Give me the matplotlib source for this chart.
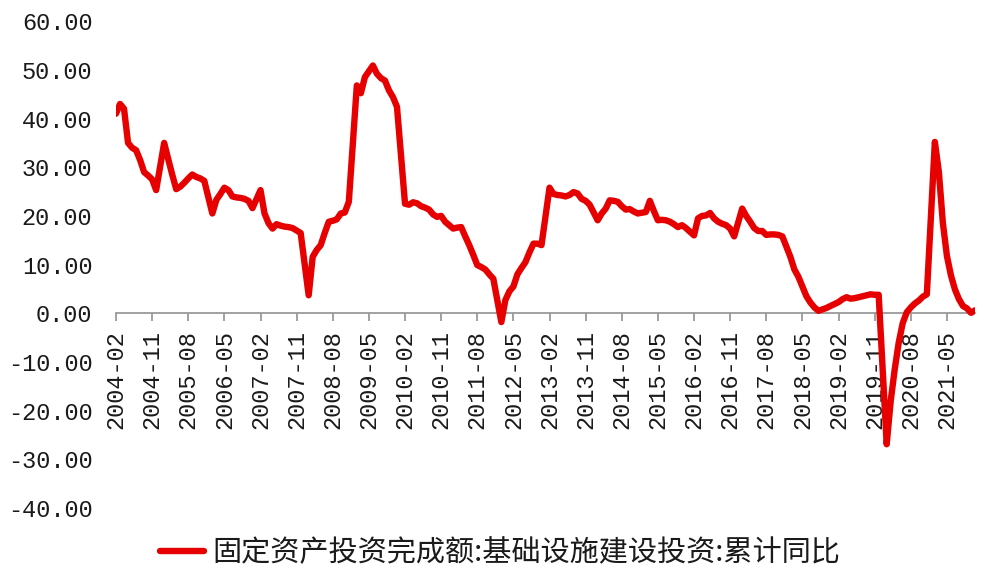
import matplotlib
matplotlib.use("Agg")
import matplotlib.pyplot as plt
import pandas as pd

# Monthly cumulative YoY (%), Feb-Dec each year (January not published)
years = list(range(2004, 2022))
v2004 = [41.0, 43.0, 42.0, 35.0, 34.0, 33.5, 31.5, 29.0, 28.3, 27.5, 25.3]
v2005 = [35.0, 31.7, 28.5, 25.5, 26.0, 26.8, 27.7, 28.5, 28.0, 27.7, 27.2]
v2006 = [20.5, 23.3, 24.5, 25.8, 25.3, 24.0, 23.8, 23.7, 23.5, 23.1, 21.6]
v2007 = [25.3, 20.5, 18.5, 17.4, 18.3, 18.0, 17.8, 17.7, 17.5, 17.0, 16.5]
v2008 = [3.7, 11.6, 13.0, 14.0, 16.5, 18.8, 19.0, 19.3, 20.5, 20.7, 22.9]
v2009 = [46.8, 45.2, 48.5, 49.7, 50.9, 49.2, 48.3, 47.8, 45.8, 44.4, 42.4]
v2010 = [22.5, 22.3, 22.8, 22.6, 22.0, 21.7, 21.3, 20.3, 19.8, 20.0, 18.8]
v2011 = [17.4, 17.6, 17.7, 15.8, 14.0, 12.0, 9.9, 9.5, 9.0, 8.0, 7.1]
v2012 = [-1.8, 2.7, 4.5, 5.5, 8.0, 9.3, 10.5, 12.5, 14.3, 14.3, 14.0]
v2013 = [25.8, 24.5, 24.3, 24.2, 24.0, 24.3, 24.9, 24.6, 23.5, 23.1, 22.3]
v2014 = [19.1, 20.5, 21.5, 23.2, 23.1, 22.9, 22.0, 21.3, 21.4, 20.9, 20.5]
v2015 = [20.8, 23.1, 21.0, 19.1, 19.2, 19.1, 18.8, 18.3, 17.7, 18.1, 17.5]
v2016 = [16.0, 19.5, 20.0, 20.1, 20.6, 19.5, 18.8, 18.4, 18.1, 17.4, 15.8]
v2017 = [21.5, 20.0, 18.8, 17.5, 16.9, 16.9, 16.1, 16.2, 16.2, 16.1, 15.8]
v2018 = [11.6, 9.0, 7.5, 5.5, 3.5, 2.2, 1.2, 0.5, 0.8, 1.1, 1.5]
v2019 = [2.3, 2.9, 3.3, 3.0, 3.1, 3.3, 3.5, 3.7, 3.9, 3.8, 3.8]
v2020 = [-26.9, -18.0, -11.5, -6.0, -2.0, 0.2, 1.2, 2.0, 2.6, 3.4, 3.9]
v2021 = [35.2, 29.0, 18.5, 11.8, 7.8, 4.9, 2.9, 1.5, 1.0, 0.1, 0.6]

values = (v2004 + v2005 + v2006 + v2007 + v2008 + v2009 + v2010 + v2011 + v2012
          + v2013 + v2014 + v2015 + v2016 + v2017 + v2018 + v2019 + v2020 + v2021)

tick_labels = ["2004-02", "2004-11", "2005-08", "2006-05", "2007-02", "2007-11",
               "2008-08", "2009-05", "2010-02", "2010-11", "2011-08", "2012-05",
               "2013-02", "2013-11", "2014-08", "2015-05", "2016-02", "2016-11",
               "2017-08", "2018-05", "2019-02", "2019-11", "2020-08", "2021-05"]
y_ticks = [60, 50, 40, 30, 20, 10, 0, -10, -20, -30, -40]
series_name = "固定资产投资完成额:基础设施建设投资:累计同比"

dates = [d for d in pd.date_range("2004-02-01", "2021-12-01", freq="MS") if d.month != 1]


def month_index(y, m):
    return (y - 2004) * 12 + (m - 2)


xs = [month_index(d.year, d.month) for d in dates]
tick_pos = [month_index(int(s[:4]), int(s[5:])) for s in tick_labels]

fig = plt.figure(figsize=(10, 5.88), dpi=100)
ax = fig.add_axes([0.116, 0.136, 0.859, 0.828])

line, = ax.plot(xs, values, color="#e60000", lw=4.6, solid_joinstyle="round",
                solid_capstyle="round", zorder=3, label=series_name)

ax.set_xlim(0, 214)
ax.set_ylim(-40, 60)

for s in ["top", "right", "left"]:
    ax.spines[s].set_visible(False)
ax.spines["bottom"].set_position(("data", 0))
ax.spines["bottom"].set_color("#9a9a9a")
ax.spines["bottom"].set_linewidth(1.3)
ax.spines["bottom"].set_zorder(2)

mono = "Liberation Mono"
ax.set_xticks(tick_pos)
ax.set_xticklabels(tick_labels, rotation=90, family=mono, fontsize=17, color="#1a1a1a")
ax.tick_params(axis="x", direction="out", length=6, width=1.3, color="#9a9a9a", pad=6)

ax.set_yticks(y_ticks)
ax.set_yticklabels([f"{v:.2f}" for v in y_ticks], family=mono, fontsize=17, color="#1a1a1a")
ax.tick_params(axis="y", length=0, pad=17)

leg = fig.legend(handles=[line], loc="center", bbox_to_anchor=(0.5, 0.06), frameon=False,
                 prop={"family": ["Noto Sans CJK SC", "DejaVu Sans"], "size": 21},
                 handlelength=1.5, handletextpad=0.3)
for t in leg.get_texts():
    t.set_color("#1a1a1a")

fig.savefig("out.png", dpi=100)
